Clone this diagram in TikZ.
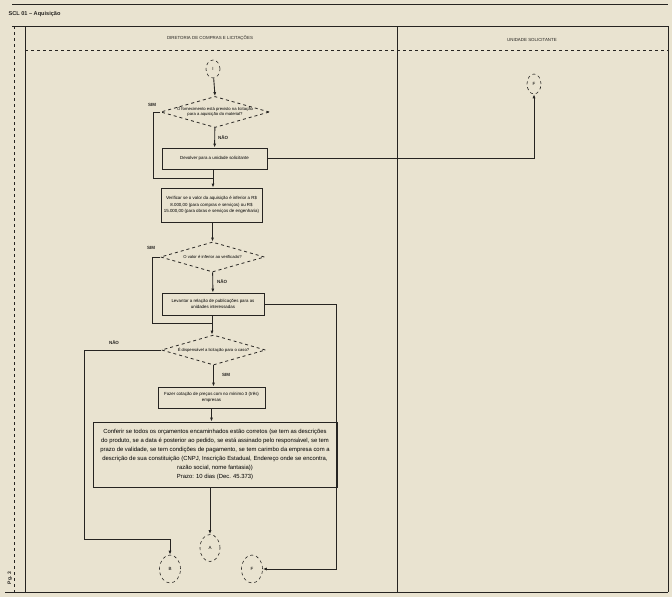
\documentclass[tikz,border=0pt]{standalone}
\usepackage{fontspec}
\setmainfont{Liberation Sans}
\usetikzlibrary{shapes.geometric,arrows.meta}
\definecolor{paper}{RGB}{233,227,208}
\definecolor{ink}{RGB}{38,36,33}
\tikzset{
  proc/.style={draw=ink, line width=0.8pt, align=center, inner sep=1pt,
    font=\fontsize{4.4}{6.4}\selectfont},
  decis/.style={draw=ink, dashed, line width=0.8pt, diamond, aspect=3.5,
    inner sep=0pt, minimum width=104pt, minimum height=30pt, align=center,
    font=\fontsize{4.2}{5.4}\selectfont},
  conn/.style={draw=ink, dashed, line width=0.6pt, ellipse, inner sep=0pt,
    font=\fontsize{4.5}{5}\selectfont},
  flow/.style={draw=ink, line width=0.9pt, -{Latex[length=4pt,width=3pt]}},
  line/.style={draw=ink, line width=0.9pt},
  lbl/.style={font=\bfseries\fontsize{4.5}{5}\selectfont, text=ink}
}
\begin{document}
\begin{tikzpicture}[x=1pt,y=-1pt]
% paper and bounding box
\fill[paper] (0,0) rectangle (672,597);
\useasboundingbox (0,0) rectangle (672,597);
% draw frame and lanes
\draw[ink, line width=0.5pt] (12,4) -- (668,4);
\draw[ink, line width=1pt] (12,26) -- (668,26);
\draw[ink, line width=0.6pt, dashed] (25,50) -- (668,50);
\draw[ink, line width=0.5pt, dashed] (14,26) -- (14,592);
\draw[ink, line width=0.9pt] (25,26) -- (25,592);
\draw[ink, line width=0.7pt] (397,26) -- (397,592);
\draw[ink, line width=0.9pt] (668,26) -- (668,592);
\draw[ink, line width=1pt] (5,592) -- (668,592);
% draw titles
\node[anchor=west, font=\bfseries\fontsize{5.6}{6}\selectfont, text=ink] (title) at (5,14) {SCL 01 -- Aquisição};
\node[font=\fontsize{4.4}{5}\selectfont, text=ink] (lane1) at (210,38) {DIRETORIA DE COMPRAS E LICITAÇÕES};
\node[font=\fontsize{4.4}{5}\selectfont, text=ink] (lane2) at (532,40) {UNIDADE SOLICITANTE};
\node[rotate=90, font=\bfseries\fontsize{5}{5}\selectfont, text=ink] (page) at (10,578) {Pg. 3};
% draw nodes
\node[conn, minimum width=14pt, minimum height=18pt] (start) at (213,69) {I};
\node[decis] (d1) at (215,112) {O fornecimento está previsto na licitação\\para a aquisição do material?};
\node[proc, minimum width=105pt, minimum height=21pt] (b1) at (214.5,158.5) {Devolver para a unidade solicitante};
\node[conn, minimum width=14pt, minimum height=20pt] (endt) at (534,84) {F};
\node[proc, minimum width=101pt, minimum height=34pt] (b2) at (211.5,205) {Verificar se o valor da aquisição é inferior a R\$\\8.000,00 (para compras e serviços) ou R\$\\15.000,00 (para obras e serviços de engenharia)};
\node[decis] (d2) at (212.5,257) {O valor é inferior ao verificado?};
\node[proc, minimum width=102pt, minimum height=22pt] (b3) at (213,304) {Levantar a relação de publicações para as\\unidades interessadas};
\node[decis] (d3) at (213.5,350) {É dispensável a licitação para o caso?};
\node[proc, minimum width=107pt, minimum height=21pt] (b4) at (211.5,397.5) {Fazer cotação de preços com no mínimo 3 (três)\\empresas};
\node[proc, minimum width=244pt, minimum height=65pt, font=\fontsize{5.9}{9}\selectfont] (b5) at (215,454.5) {Conferir se todos os orçamentos encaminhados estão corretos (se tem as descrições\\do produto, se a data é posterior ao pedido, se está assinado pelo responsável, se tem\\prazo de validade, se tem condições de pagamento, se tem carimbo da empresa com a\\descrição de sua constituição (CNPJ, Inscrição Estadual, Endereço onde se encontra,\\razão social, nome fantasia))\\Prazo: 10 dias (Dec. 45.373)};
\node[conn, minimum width=20pt, minimum height=27pt] (ca) at (210,548) {A};
\node[conn, minimum width=21pt, minimum height=28pt] (cb) at (170,569) {B};
\node[conn, minimum width=21pt, minimum height=28pt] (cf) at (252,569) {F};
% draw connectors
\coordinate (j1) at (213,178);
\coordinate (j2) at (212,323);
\draw[flow] (start) -- (d1.north);
\draw[flow] (d1) -- (b1);
\draw[line] (d1.west) -| (153,178) -- (j1);
\draw[flow] (b1.south -| j1) -- (b2.north -| j1);
\draw[flow] (b1.east) -| (endt.south);
\draw[flow] (b2.south -| d2) -- (d2.north);
\draw[flow] (d2) -- (b3);
\draw[line] (d2.west) -| (152,323) -- (j2);
\draw[flow] (b3.south -| j2) -- (d3.north -| j2);
\draw[flow] (b3.east) -| (336,569) -- (cf.east);
\draw[flow] (d3.south) -- (b4.north -| d3);
\draw[flow] (d3.west) -| (84,539) -| (cb.north);
\draw[flow] (b4.south) -- (b5.north -| b4);
\draw[flow] (b5.south -| ca) -- (ca.north);
% draw labels
\node[lbl] (sim1) at (152,105) {SIM};
\node[lbl] (nao1) at (223,138) {NÃO};
\node[lbl] (sim2) at (151,248) {SIM};
\node[lbl] (nao2) at (222,282) {NÃO};
\node[lbl] (nao3) at (114,343) {NÃO};
\node[lbl] (sim3) at (226,375) {SIM};
\end{tikzpicture}
\end{document}
